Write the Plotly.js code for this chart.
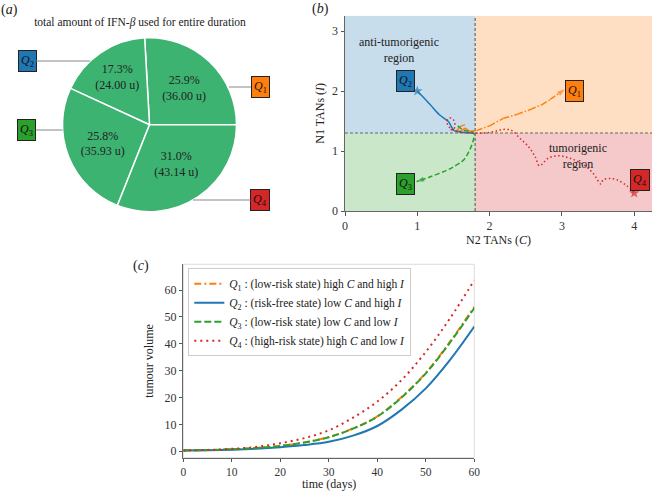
<!DOCTYPE html>
<html><head><meta charset="utf-8">
<script src="https://cdn.plot.ly/plotly-3.0.1.min.js"></script>
<style>html,body{margin:0;padding:0;background:#fff}#chart{width:652px;height:492px}</style>
</head><body><div id="chart"></div>
<script>
// ---------- (a) pie: total IFN-beta used ----------
const pieLabels = ['Q1', 'Q2', 'Q3', 'Q4'];
const pieValues = [36.00, 24.00, 35.93, 43.14];

// ---------- (b) phase plane trajectories ----------
const thresholdC = 1.8;
const thresholdI = 1.3;
const q1C = [1.66, 1.58, 1.55, 1.60, 1.66, 1.72, 1.82, 2.00, 2.19, 2.38, 2.56, 2.72, 2.84, 2.95, 3.04];
const q1I = [1.44, 1.40, 1.34, 1.33, 1.38, 1.33, 1.34, 1.42, 1.545, 1.61, 1.69, 1.77, 1.86, 1.95, 2.03];
const q2C = [1.78, 1.64, 1.51, 1.43, 1.31, 1.18, 1.08, 1.00];
const q2I = [1.30, 1.31, 1.34, 1.49, 1.60, 1.77, 1.90, 2.00];
const q3C = [1.56, 1.62, 1.70, 1.78, 1.78, 1.73, 1.64, 1.52, 1.41, 1.18, 0.99];
const q3I = [1.42, 1.36, 1.33, 1.30, 1.21, 1.03, 0.85, 0.75, 0.68, 0.57, 0.49];
const q4C = [1.46, 1.50, 1.52, 1.51, 1.47, 1.43, 1.41, 1.44, 1.50, 1.60, 1.75, 1.87, 2.05, 2.19, 2.31, 2.42, 2.54, 2.63, 2.69, 2.81, 2.95, 3.11, 3.30, 3.43, 3.54, 3.57, 3.67, 3.76, 3.90, 4.00];
const q4I = [1.36, 1.36, 1.42, 1.50, 1.55, 1.54, 1.48, 1.40, 1.35, 1.32, 1.30, 1.295, 1.32, 1.36, 1.34, 1.21, 1.07, 0.905, 0.755, 0.88, 0.92, 0.88, 0.77, 0.63, 0.45, 0.52, 0.54, 0.52, 0.42, 0.30];

// ---------- (c) tumour volume ----------
const timeDays = [0, 5, 10, 15, 20, 25, 30, 35, 40, 45, 50, 55, 60];
const volQ1 = [0.3, 0.45, 0.75, 1.2, 2.0, 3.3, 5.3, 8.5, 13.0, 20.2, 29.2, 40.8, 53.8];
const volQ2 = [0.3, 0.4, 0.6, 0.95, 1.5, 2.3, 3.5, 5.8, 9.4, 15.5, 23.4, 34.0, 46.4];
const volQ3 = [0.3, 0.45, 0.75, 1.2, 2.0, 3.3, 5.2, 8.4, 12.9, 20.0, 29.0, 40.5, 53.3];
const volQ4 = [0.3, 0.5, 0.9, 1.6, 3.0, 4.9, 7.8, 12.5, 18.5, 26.5, 37.0, 49.5, 63.7];
const legendNames = [
  '<i>Q</i><sub>1</sub> : (low-risk state) high <i>C</i> and high <i>I</i>',
  '<i>Q</i><sub>2</sub> : (risk-free state) low <i>C</i> and high <i>I</i>',
  '<i>Q</i><sub>3</sub> : (low-risk state) low <i>C</i> and low <i>I</i>',
  '<i>Q</i><sub>4</sub> : (high-risk state) high <i>C</i> and low <i>I</i>'
];

const cOrange = '#ff7f0e', cBlue = '#1f77b4', cGreen = '#2ca02c', cRed = '#d62728';
const serif = 'Liberation Serif, Times New Roman, serif';
const W = 652, H = 492;
const pieTotal = pieValues.reduce((a, b) => a + b, 0);
// first wedge starts at 3 o'clock and runs counter-clockwise
const pieRotation = 90 - 360 * pieValues[0] / pieTotal;

function endSizes(n, s) { return Array.from({length: n}, (_, i) => i === n - 1 ? s : 0); }

const traces = [
  {type: 'pie', values: pieValues, labels: pieLabels, sort: false, direction: 'counterclockwise', rotation: pieRotation,
   domain: {x: [62.5 / W, 236.5 / W], y: [(H - 124.7 - 87) / H, (H - 124.7 + 87) / H]},
   marker: {colors: pieLabels.map(() => '#3cb371'), line: {color: '#ffffff', width: 1.5}},
   texttemplate: '%{percent:.1%}<br>(%{value:.2f} u)', textposition: 'inside', insidetextorientation: 'horizontal',
   textfont: {family: serif, size: 12, color: '#222'}, showlegend: false, hoverinfo: 'skip'},
  // (b)
  {x: q1C, y: q1I, xaxis: 'x2', yaxis: 'y2', mode: 'lines+markers', showlegend: false,
   line: {color: cOrange, width: 1.5, dash: '6px,2px,1.5px,2px'},
   marker: {symbol: 'arrow', angleref: 'previous', size: endSizes(q1C.length, 8), color: cOrange, line: {width: 0}}},
  {x: q2C, y: q2I, xaxis: 'x2', yaxis: 'y2', mode: 'lines+markers', showlegend: false,
   line: {color: cBlue, width: 1.5, shape: 'spline'},
   marker: {symbol: 'star', size: endSizes(q2C.length, 8), color: cBlue, line: {width: 0}}},
  {x: q3C, y: q3I, xaxis: 'x2', yaxis: 'y2', mode: 'lines+markers', showlegend: false,
   line: {color: cGreen, width: 1.5, dash: '5px,2.5px', shape: 'spline'},
   marker: {symbol: 'arrow', angleref: 'previous', size: endSizes(q3C.length, 8), color: cGreen, line: {width: 0}}},
  {x: q4C, y: q4I, xaxis: 'x2', yaxis: 'y2', mode: 'lines+markers', showlegend: false,
   line: {color: cRed, width: 1.5, dash: '1.5px,2.5px', shape: 'spline'},
   marker: {symbol: 'star', size: endSizes(q4C.length, 8), color: cRed, line: {width: 0}}},
  // (c)
  {x: timeDays, y: volQ1, name: legendNames[0], mode: 'lines', line: {color: cOrange, width: 2, dash: '7px,3px,2px,3px', shape: 'spline'}},
  {x: timeDays, y: volQ2, name: legendNames[1], mode: 'lines', line: {color: cBlue, width: 2, shape: 'spline'}},
  {x: timeDays, y: volQ3, name: legendNames[2], mode: 'lines', line: {color: cGreen, width: 2, dash: '7px,3px', shape: 'spline'}},
  {x: timeDays, y: volQ4, name: legendNames[3], mode: 'lines', line: {color: cRed, width: 2, dash: '2px,4px', shape: 'spline'}}
];

const axisCommon = {showgrid: false, zeroline: false, ticks: 'outside', ticklen: 3.5, tickcolor: '#555',
  showline: true, linecolor: '#666', linewidth: 1, tickfont: {family: serif, size: 12, color: '#333'}};
const titleFont = {family: serif, size: 12, color: '#222'};
const xRangeB = [0, 4.246], yRangeB = [0, 3.255];

function region(x0, x1, y0, y1, col) {
  return {type: 'rect', xref: 'x2', yref: 'y2', x0, x1, y0, y1, fillcolor: col, opacity: 0.25, line: {width: 0}, layer: 'below'};
}
function qBox(xref, yref, x, y, n, col, extra) {
  return Object.assign({xref, yref, x, y, text: '<i>Q</i><sub>' + n + '</sub>', showarrow: false,
    xanchor: 'center', yanchor: 'middle',
    bgcolor: col, bordercolor: '#222', borderwidth: 1, borderpad: 2,
    font: {family: serif, size: 12, color: '#111'}}, extra || {});
}
function pieBox(tipX, tipY, ax, n, col) {
  return qBox('paper', 'paper', tipX / W, 1 - tipY / H, n, col,
    {showarrow: true, arrowhead: 0, arrowwidth: 1.2, arrowcolor: '#888', ax: ax, ay: 0});
}
function panelLetter(x, y, ch) {
  return {xref: 'paper', yref: 'paper', x: x / W, y: 1 - y / H, xanchor: 'center', yanchor: 'middle',
    text: '(<i>' + ch + '</i>)', showarrow: false, font: {family: serif, size: 14, color: '#222'}};
}

const layout = {
  width: W, height: H, margin: {l: 0, r: 0, t: 0, b: 0}, paper_bgcolor: '#fff', plot_bgcolor: 'rgba(0,0,0,0)',
  showlegend: true,
  title: {text: 'total amount of IFN-<i>β</i> used for entire duration', font: {family: serif, size: 11.5, color: '#222'},
    x: 140 / W, xanchor: 'center', y: 1 - 22 / H, yanchor: 'middle', xref: 'paper', yref: 'paper'},
  xaxis: Object.assign({}, axisCommon, {domain: [183.3 / W, 474.3 / W], range: [0, 60], anchor: 'y', dtick: 10,
    ticklen: 3, tickfont: {family: serif, size: 11.5, color: '#333'}}),
  yaxis: Object.assign({}, axisCommon, {domain: [(H - 457.7) / H, (H - 264.3) / H], range: [-2.4, 69.6], anchor: 'x', dtick: 10,
    title: {text: 'tumour volume', font: titleFont, standoff: 8}}),
  xaxis2: Object.assign({}, axisCommon, {domain: [345 / W, 1], range: xRangeB, anchor: 'y2', dtick: 1,
    title: {text: 'N2 TANs (<i>C</i>)', font: titleFont, standoff: 2}}),
  yaxis2: Object.assign({}, axisCommon, {domain: [(H - 211) / H, (H - 15.7) / H], range: yRangeB, anchor: 'x2', dtick: 1,
    title: {text: 'N1 TANs (<i>I</i>)', font: titleFont, standoff: 4}}),
  legend: {x: 188.3 / W, y: 1 - 268.3 / H, xanchor: 'left', yanchor: 'top', bgcolor: '#fff', bordercolor: '#ccc', borderwidth: 1,
    font: {family: serif, size: 11.5, color: '#222'}, tracegroupgap: 0},
  shapes: [
    region(xRangeB[0], thresholdC, thresholdI, yRangeB[1], cBlue),
    region(thresholdC, xRangeB[1], thresholdI, yRangeB[1], cOrange),
    region(xRangeB[0], thresholdC, yRangeB[0], thresholdI, cGreen),
    region(thresholdC, xRangeB[1], yRangeB[0], thresholdI, cRed),
    {type: 'line', xref: 'x2', yref: 'y2', x0: thresholdC, x1: thresholdC, y0: yRangeB[0], y1: yRangeB[1], line: {color: '#666', width: 1.2, dash: '3px,2px'}, layer: 'below'},
    {type: 'line', xref: 'x2', yref: 'y2', x0: xRangeB[0], x1: xRangeB[1], y0: thresholdI, y1: thresholdI, line: {color: '#666', width: 1.2, dash: '3px,2px'}, layer: 'below'},
    {type: 'rect', xref: 'x domain', yref: 'y domain', x0: 0, x1: 1, y0: 0, y1: 1, line: {color: '#ddd', width: 1}, layer: 'below'}
  ],
  annotations: [
    panelLetter(9, 10, 'a'),
    panelLetter(320, 9, 'b'),
    panelLetter(141, 266, 'c'),
    {xref: 'x domain', yref: 'paper', x: 0.5, y: 0, xanchor: 'center', yanchor: 'bottom', borderpad: 0,
     text: 'time (days)', showarrow: false, font: titleFont},
    pieBox(229, 87, 31, 1, cOrange),
    pieBox(90, 61, -63, 2, cBlue),
    pieBox(62.7, 130, -36, 3, cGreen),
    pieBox(193, 200, 67, 4, cRed),
    qBox('x2', 'y2', 3.18, 2.0, 1, cOrange),
    qBox('x2', 'y2', 0.84, 2.17, 2, cBlue),
    qBox('x2', 'y2', 0.84, 0.445, 3, cGreen),
    qBox('x2', 'y2', 4.08, 0.52, 4, cRed),
    {xref: 'x2', yref: 'y2', x: 0.75, y: 2.675, text: 'anti-tumorigenic<br>region', showarrow: false, font: {family: serif, size: 12, color: '#222'}},
    {xref: 'x2', yref: 'y2', x: 3.22, y: 0.91, text: 'tumorigenic<br>region', showarrow: false, font: {family: serif, size: 12, color: '#222'}}
  ]
};

Plotly.newPlot('chart', traces, layout, {displayModeBar: false, staticPlot: true});
</script>
</body></html>
